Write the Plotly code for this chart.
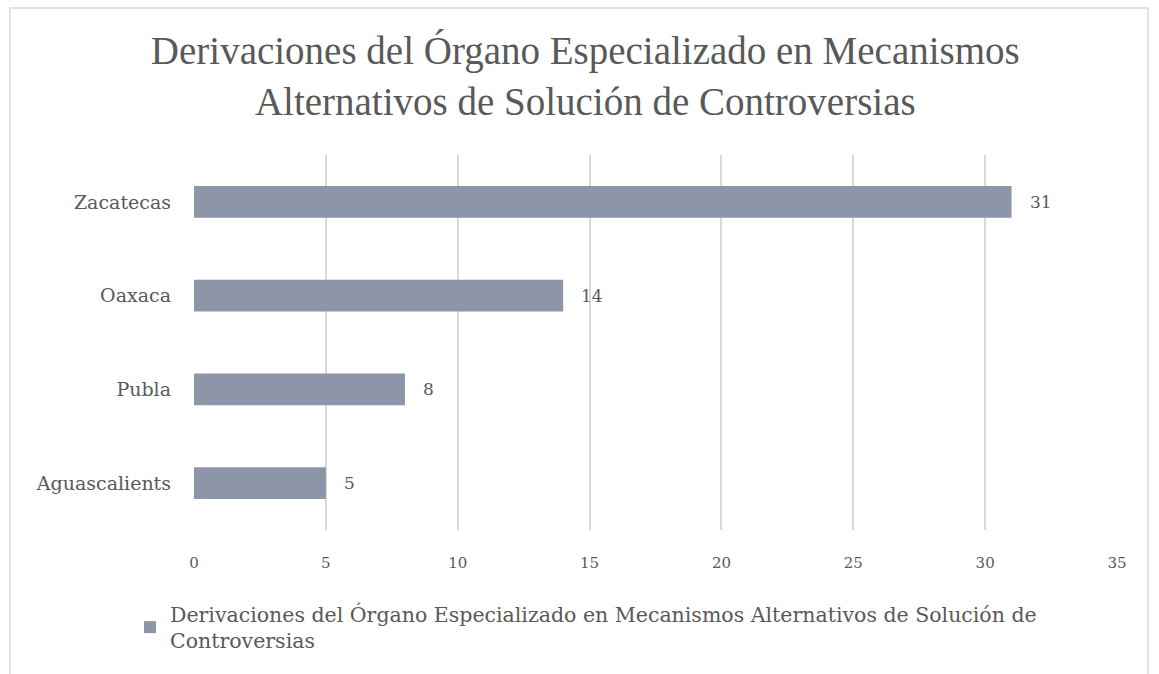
import plotly.graph_objects as go

# Data
estados = ["Zacatecas", "Oaxaca", "Publa", "Aguascalients"]
derivaciones = [31, 14, 8, 5]
serie = ("Derivaciones del Órgano Especializado en Mecanismos Alternativos de Solución de<br>"
         "Controversias")
titulo = ("Derivaciones del Órgano Especializado en Mecanismos<br>"
          "Alternativos de Solución de Controversias")
x_ticks = [0, 5, 10, 15, 20, 25, 30, 35]

W, H = 1159, 674
L, R, T, B = 194, 42, 155, 144
pw, ph = W - L - R, H - T - B

title_font = "Liberation Serif, serif"
body_font = "DejaVu Serif, serif"
txt = "#595959"

fig = go.Figure(go.Bar(
    y=estados,
    x=derivaciones,
    orientation="h",
    name=serie,
    marker=dict(color="#8d95a8", line=dict(width=0)),
))

# value labels to the right of each bar
for est, val in zip(estados, derivaciones):
    fig.add_annotation(
        x=val, y=est, text=str(val), showarrow=False,
        xanchor="left", xshift=16,
        font=dict(family=body_font, size=17, color=txt),
    )

# light frame around the chart
fig.add_shape(
    type="rect", xref="paper", yref="paper",
    x0=(10 - L) / pw, x1=(1148 - L) / pw,
    y0=(ph + T - 690) / ph, y1=(ph + T - 8) / ph,
    line=dict(color="#d9d9d9", width=1.5), fillcolor="rgba(0,0,0,0)",
    layer="below",
)

fig.update_layout(
    width=W, height=H,
    margin=dict(l=L, r=R, t=T, b=B),
    paper_bgcolor="white", plot_bgcolor="white",
    title=dict(
        text=titulo, x=0.505, xanchor="center", xref="container",
        y=1 - 64 / H, yanchor="middle", yref="container",
        font=dict(family=title_font, size=39, color=txt),
    ),
    bargap=0.66,
    showlegend=True,
    legend=dict(
        orientation="h", x=(130 - L) / pw, xanchor="left",
        y=(ph + T - 594) / ph, yanchor="top",
        font=dict(family=body_font, size=20.5, color=txt),
        itemwidth=30,
    ),
    xaxis=dict(
        range=[0, 35], tickvals=x_ticks,
        showgrid=True, gridcolor="#d9d9d9", gridwidth=1.5,
        zeroline=False, showline=False,
        tickfont=dict(family=body_font, size=15, color=txt),
        ticklabelstandoff=22,
    ),
    yaxis=dict(
        categoryorder="array", categoryarray=estados[::-1],
        showgrid=False, zeroline=False, showline=False,
        tickfont=dict(family=body_font, size=19, color=txt),
        ticklabelstandoff=22,
    ),
)

fig.write_html("out.html")
